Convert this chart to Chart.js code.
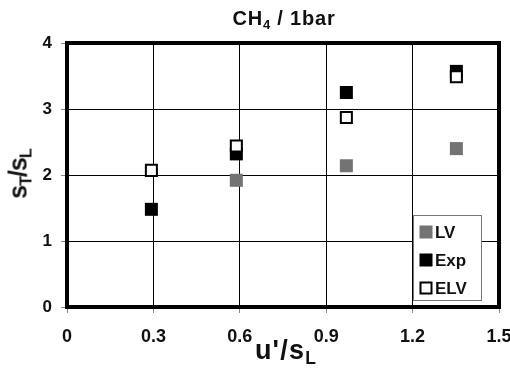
<!DOCTYPE html>
<html>
<head>
<meta charset="utf-8">
<script src="https://cdn.jsdelivr.net/npm/chart.js@4"></script>
<style>
  html, body { margin: 0; padding: 0; background: #fff; }
  #wrap { position: relative; width: 510px; height: 370px; overflow: hidden; font-family: 'Liberation Sans', Arial, sans-serif; }
  canvas { position: absolute; left: 0; top: 0; }
  .lbl { position: absolute; font-weight: bold; color: #111; white-space: nowrap; line-height: 1; transform: translate(-50%, -50%); }
  .lbl sub { font-size: 65%; vertical-align: -0.3em; line-height: 0; }
  #title { left: 284px; top: 18px; font-size: 20px; letter-spacing: 0.8px; }
  #xlab { left: 286px; top: 350px; font-size: 27px; letter-spacing: 1.2px; }
  #ylab { left: 18px; top: 174px; font-size: 25px; letter-spacing: -1px; transform: translate(-50%, -50%) rotate(-90deg); }
</style>
</head>
<body>
<div id="wrap">
  <canvas id="c" width="510" height="370"></canvas>
  <div class="lbl" id="title">CH<sub>4</sub> / 1bar</div>
  <div class="lbl" id="xlab">u'/s<sub>L</sub></div>
  <div class="lbl" id="ylab">s<sub>T</sub>/s<sub>L</sub></div>
</div>
<script>
// Data
const seriesNames = ['LV', 'Exp', 'ELV'];
const lvX  = [0.588, 0.970, 1.352];
const lvY  = [1.92, 2.14, 2.40];
const expX = [0.293, 0.588, 0.970, 1.352];
const expY = [1.48, 2.32, 3.25, 3.57];
const elvX = [0.293, 0.588, 0.970, 1.352];
const elvY = [2.07, 2.44, 2.87, 3.49];
const xTicks = [0, 0.3, 0.6, 0.9, 1.2, 1.5];
const yTicks = [0, 1, 2, 3, 4];

const pts = (xs, ys) => xs.map((x, i) => ({ x: x, y: ys[i] }));

const framePlugin = {
  id: 'frame',
  beforeDatasetsDraw(chart) {
    const a = chart.chartArea, ctx = chart.ctx;
    ctx.save();
    ctx.strokeStyle = '#000';
    ctx.lineWidth = 4;
    ctx.strokeRect(a.left, a.top, a.right - a.left, a.bottom - a.top);
    ctx.restore();
  }
};

const legendPlugin = {
  id: 'boxLegend',
  afterDatasetsDraw(chart) {
    const ctx = chart.ctx;
    const bx = 413, by = 215, bw = 68, bh = 85;
    ctx.save();
    ctx.fillStyle = '#fff';
    ctx.fillRect(bx, by, bw, bh);
    ctx.strokeStyle = '#777';
    ctx.lineWidth = 1;
    ctx.strokeRect(bx + 0.5, by + 0.5, bw, bh);
    const rows = [232, 260, 288];
    chart.data.datasets.forEach((ds, i) => {
      const cy = rows[i], cx = 426;
      const s = ds.borderWidth > 0 ? 11 : 13;
      ctx.fillStyle = ds.backgroundColor;
      ctx.fillRect(cx - s / 2, cy - s / 2, s, s);
      if (ds.borderWidth > 0) {
        ctx.strokeStyle = ds.borderColor;
        ctx.lineWidth = ds.borderWidth;
        ctx.strokeRect(cx - s / 2, cy - s / 2, s, s);
      }
      ctx.fillStyle = '#111';
      ctx.font = "bold 17px 'Liberation Sans', Arial, sans-serif";
      ctx.textBaseline = 'middle';
      ctx.textAlign = 'left';
      ctx.fillText(ds.label, 435, cy + 1);
    });
    ctx.restore();
  }
};

new Chart(document.getElementById('c'), {
  type: 'scatter',
  data: {
    datasets: [
      { label: seriesNames[0], data: pts(lvX, lvY), pointStyle: 'rect', pointRadius: 9.2, backgroundColor: '#737373', borderColor: '#737373', borderWidth: 0, order: 2 },
      { label: seriesNames[1], data: pts(expX, expY), pointStyle: 'rect', pointRadius: 9.2, backgroundColor: '#000000', borderColor: '#000000', borderWidth: 0, order: 1 },
      { label: seriesNames[2], data: pts(elvX, elvY), pointStyle: 'rect', pointRadius: 7.8, backgroundColor: '#ffffff', borderColor: '#000000', borderWidth: 2, order: 0 }
    ]
  },
  options: {
    responsive: false,
    animation: false,
    devicePixelRatio: 1,
    layout: { padding: { top: 43, right: 11, left: 0, bottom: 0 } },
    plugins: { legend: { display: false }, title: { display: false }, tooltip: { enabled: false } },
    scales: {
      x: {
        type: 'linear', min: 0, max: 1.5,
        afterBuildTicks(s) { s.ticks = xTicks.map(v => ({ value: v })); },
        afterFit(s) { s.height = 63; s.paddingLeft = 0; s.paddingRight = 0; },
        grid: { color: '#000', lineWidth: 1, drawTicks: true, tickLength: 6, tickColor: '#888' },
        border: { display: false },
        ticks: { color: '#111', padding: 13, font: { family: "'Liberation Sans', Arial, sans-serif", size: 18, weight: 'bold' }, maxRotation: 0, callback: v => String(v) }
      },
      y: {
        type: 'linear', min: 0, max: 4,
        afterBuildTicks(s) { s.ticks = yTicks.map(v => ({ value: v })); },
        afterFit(s) { s.width = 67; s.paddingTop = 0; s.paddingBottom = 0; },
        grid: { color: '#000', lineWidth: 1, drawTicks: true, tickLength: 6, tickColor: '#888' },
        border: { display: false },
        ticks: { color: '#111', padding: 9, font: { family: "'Liberation Sans', Arial, sans-serif", size: 17, weight: 'bold' }, callback: v => String(v) }
      }
    }
  },
  plugins: [framePlugin, legendPlugin]
});
</script>
</body>
</html>
